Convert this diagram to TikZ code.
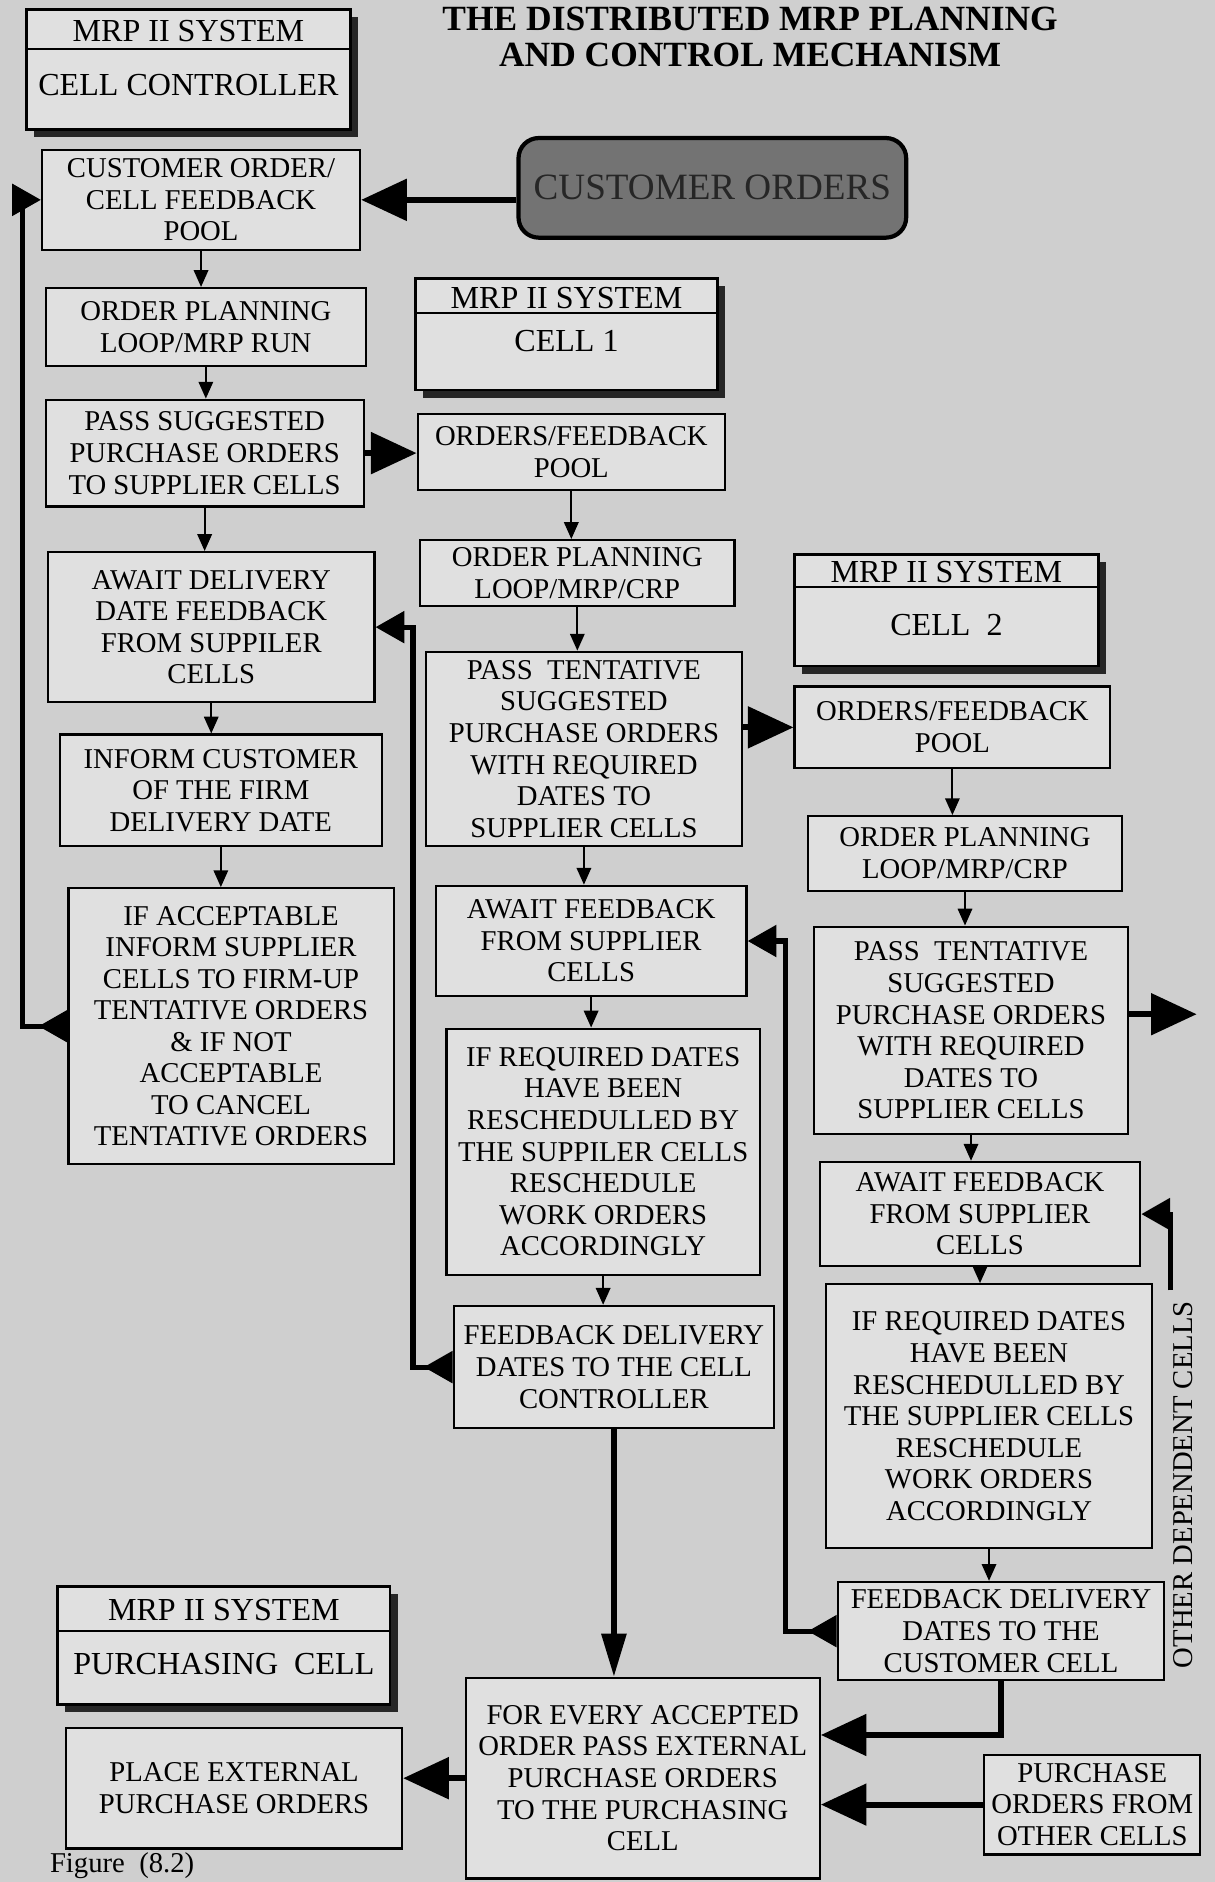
\documentclass[tikz,border=0pt]{standalone}
\usepackage{fontspec}
\setmainfont{Liberation Serif}
\usetikzlibrary{positioning,arrows.meta,shadows}

\definecolor{paper}{gray}{0.81}
\definecolor{boxfill}{gray}{0.88}

\begin{document}
\begin{tikzpicture}[
  x=0.025cm, y=-0.025cm,
  font=\fontsize{17}{18.7}\selectfont,
  sz/.style 2 args={minimum width=#1*0.025cm, minimum height=#2*0.025cm},
  box/.style={draw, line width=1.3pt, fill=boxfill, align=center, inner sep=2pt},
  hdr/.style={draw, line width=1.5pt, fill=boxfill,
              drop shadow={shadow xshift=0.16cm, shadow yshift=-0.16cm, fill=black!85, opacity=1}},
  hdrtxt/.style={font=\fontsize{19}{21}\selectfont},
  dark/.style={draw, line width=2.5pt, rounded corners=12pt, fill=black!55, text=black!85,
               font=\fontsize{22}{24}\selectfont},
  ttl/.style={font=\fontsize{21}{23}\selectfont\bfseries},
  flow/.style={-{Triangle[length=0.35cm, width=0.3cm]}, line width=1.2pt},
  thickarr/.style={-{Triangle[length=0.95cm, width=0.85cm]}, line width=3.5pt},
  longarr/.style={-{Triangle[length=0.9cm, width=0.5cm]}, line width=3.5pt},
  fback/.style={{Triangle[reversed, length=0.6cm, width=0.65cm]}-{Triangle[length=0.6cm, width=0.65cm]}, line width=3pt},
  sidearr/.style={-{Triangle[length=0.6cm, width=0.65cm]}, line width=3pt},
]
\useasboundingbox (0,0) rectangle (1012,1568);
\fill[paper] (0,0) rectangle (1012,1568);

% title
\node[ttl] (title1) at (625,16) {THE DISTRIBUTED MRP PLANNING};
\node[ttl] (title2) at (625,46) {AND CONTROL MECHANISM};

% system headers
\node[hdr, sz={270}{100}] (cc) at (157,58) {};
\draw[line width=1.5pt] ([yshift=-34*0.025cm]cc.north west) -- ([yshift=-34*0.025cm]cc.north east);
\node[hdrtxt] (cc sys) at (157,26) {MRP II SYSTEM};
\node[hdrtxt] (cc name) at (157,71) {CELL CONTROLLER};

\node[hdr, sz={252}{93}] (c1) at (472,278.5) {};
\draw[line width=1.5pt] ([yshift=-30*0.025cm]c1.north west) -- ([yshift=-30*0.025cm]c1.north east);
\node[hdrtxt] (c1 sys) at (472,248) {MRP II SYSTEM};
\node[hdrtxt] (c1 name) at (472,284) {CELL 1};

\node[hdr, sz={253}{93}] (c2) at (788.5,508.5) {};
\draw[line width=1.5pt] ([yshift=-28*0.025cm]c2.north west) -- ([yshift=-28*0.025cm]c2.north east);
\node[hdrtxt] (c2 sys) at (788.5,477) {MRP II SYSTEM};
\node[hdrtxt] (c2 name) at (788.5,521) {CELL\ \ 2};

\node[hdr, sz={277}{98}] (pc) at (186.5,1371) {};
\draw[line width=1.5pt] ([yshift=-38*0.025cm]pc.north west) -- ([yshift=-38*0.025cm]pc.north east);
\node[hdrtxt] (pc sys) at (186.5,1341) {MRP II SYSTEM};
\node[hdrtxt] (pc name) at (186.5,1386) {PURCHASING\ \ CELL};

\node[dark, sz={323}{83}] (co) at (593.5,156.5) {CUSTOMER ORDERS};

% cell controller column
\node[box, sz={265}{83}]  (a1) at (167.5,166.5) {CUSTOMER ORDER/\\CELL FEEDBACK\\POOL};
\node[box, sz={267}{65}]  (a2) at (171.5,272.5) {ORDER PLANNING\\LOOP/MRP RUN};
\node[box, sz={265}{89}]  (a3) at (170.5,377.5) {PASS SUGGESTED\\PURCHASE ORDERS\\TO SUPPLIER CELLS};
\node[box, sz={272}{125}] (a4) at (176,522.5) {AWAIT DELIVERY\\DATE FEEDBACK\\FROM SUPPILER\\CELLS};
\node[box, sz={268}{93}]  (a5) at (184,658.5) {INFORM CUSTOMER\\OF THE FIRM\\DELIVERY DATE};
\node[box, sz={271}{230}] (a6) at (192.5,855) {IF ACCEPTABLE\\INFORM SUPPLIER\\CELLS TO FIRM-UP\\TENTATIVE ORDERS\\\& IF NOT\\ACCEPTABLE\\TO CANCEL\\TENTATIVE ORDERS};

% cell 1 column
\node[box, sz={256}{63}]  (b1) at (476,376.5) {ORDERS/FEEDBACK\\POOL};
\node[box, sz={262}{55}]  (b2) at (481,477.5) {ORDER PLANNING\\LOOP/MRP/CRP};
\node[box, sz={263}{162}] (b3) at (486.5,624) {PASS\ \ TENTATIVE\\SUGGESTED\\PURCHASE ORDERS\\WITH REQUIRED\\DATES TO\\SUPPLIER CELLS};
\node[box, sz={259}{92}]  (b4) at (492.5,784) {AWAIT FEEDBACK\\FROM SUPPLIER\\CELLS};
\node[box, sz={261}{205}] (b5) at (502.5,959.5) {IF REQUIRED DATES\\HAVE BEEN\\RESCHEDULLED BY\\THE SUPPILER CELLS\\RESCHEDULE\\WORK ORDERS\\ACCORDINGLY};
\node[box, sz={267}{102}] (b6) at (511.5,1139) {FEEDBACK DELIVERY\\DATES TO THE CELL\\CONTROLLER};

% cell 2 column
\node[box, sz={263}{68}]  (e1) at (793.5,606) {ORDERS/FEEDBACK\\POOL};
\node[box, sz={262}{62}]  (e2) at (804,711) {ORDER PLANNING\\LOOP/MRP/CRP};
\node[box, sz={262}{173}] (e3) at (809,858.5) {PASS\ \ TENTATIVE\\SUGGESTED\\PURCHASE ORDERS\\WITH REQUIRED\\DATES TO\\SUPPLIER CELLS};
\node[box, sz={267}{87}]  (e4) at (816.5,1011.5) {AWAIT FEEDBACK\\FROM SUPPLIER\\CELLS};
\node[box, sz={272}{220}] (e5) at (824,1180) {IF REQUIRED DATES\\HAVE BEEN\\RESCHEDULLED BY\\THE SUPPLIER CELLS\\RESCHEDULE\\WORK ORDERS\\ACCORDINGLY};
\node[box, sz={272}{82}]  (e6) at (834,1359) {FEEDBACK DELIVERY\\DATES TO THE\\CUSTOMER CELL};

% purchasing
\node[box, sz={295}{167}] (d1) at (535.5,1481.5) {FOR EVERY ACCEPTED\\ORDER PASS EXTERNAL\\PURCHASE ORDERS\\TO THE PURCHASING\\CELL};
\node[box, sz={280}{100}] (f1) at (195,1490) {PLACE EXTERNAL\\PURCHASE ORDERS};
\node[box, sz={180}{83}]  (g)  at (910,1503.5) {PURCHASE\\ORDERS FROM\\OTHER CELLS};

\node[rotate=90] (odc label) at (986,1237) {OTHER DEPENDENT CELLS};
\node[anchor=south west, inner sep=1pt] (fig) at (40,1567) {Figure\ \ (8.2)};

\coordinate (out) at (997,845);
\coordinate (odc) at (975,1075);

% flow down the columns
\draw[flow] (a1.south) -- (a1.south |- a2.north);
\draw[flow] (a2.south) -- (a2.south |- a3.north);
\draw[flow] (a3.south) -- (a3.south |- a4.north);
\draw[flow] (a4.south) -- (a4.south |- a5.north);
\draw[flow] (a5.south) -- (a5.south |- a6.north);
\draw[flow] (b1.south) -- (b1.south |- b2.north);
\draw[flow] (b2.south) -- (b2.south |- b3.north);
\draw[flow] (b3.south) -- (b3.south |- b4.north);
\draw[flow] (b4.south) -- (b4.south |- b5.north);
\draw[flow] (b5.south) -- (b5.south |- b6.north);
\draw[flow] (e1.south) -- (e1.south |- e2.north);
\draw[flow] (e2.south) -- (e2.south |- e3.north);
\draw[flow] (e3.south) -- (e3.south |- e4.north);
\draw[flow] (e4.south) -- (e4.south |- e5.north);
\draw[flow] (e5.south) -- (e5.south |- e6.north);

% orders passed across
\draw[thickarr] (co.west |- a1) -- (a1.east);
\draw[thickarr] (a3.east) -- (a3.east -| b1.west);
\draw[thickarr] (b3.east |- e1) -- (e1.west);
\draw[thickarr] (e3.east |- out) -- (out);

% feedback loops
\draw[fback] (a6.west) -- ++(-37,0) |- (a1.west);
\draw[fback] (b6.west) -- ++(-33,0) |- (a4.east);
\draw[fback] (e6.west) -- ++(-43,0) |- (b4.east);
\draw[sidearr] (odc) |- (e4.east);

% to the purchasing cell
\draw[longarr] (b6.south) -- (b6.south |- d1.north);
\draw[thickarr] (e6.south) |- ([yshift=36*0.025cm]d1.east);
\draw[thickarr] (g.west) -- (g.west -| d1.east);
\draw[thickarr] (d1.west) -- (d1.west -| f1.east);
\end{tikzpicture}
\end{document}
